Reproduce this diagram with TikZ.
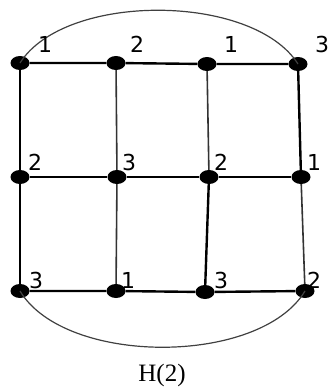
\documentclass[tikz,border=0pt]{standalone}
\usepackage{fontspec}
\setmainfont{Liberation Serif}
\newfontfamily\labfont{DejaVu Sans}
\usetikzlibrary{shapes.geometric}

\begin{document}
\begin{tikzpicture}[x=1pt,y=-1pt,
  dot/.style={ellipse,fill=black,inner sep=0pt,minimum width=19pt,minimum height=14pt},
  lab/.style={font=\labfont\fontsize{22}{23}\selectfont,inner sep=0pt},
  edge/.style={line width=2.4pt},
  thin/.style={line width=1.6pt,black!80},
  arc/.style={line width=1.2pt,black!75}]
  \useasboundingbox (0,0) rectangle (328,392);
  % vertices
  \node[dot] (a1) at (20,63) {};
  \node[dot] (a2) at (116,63) {};
  \node[dot] (a3) at (207,64) {};
  \node[dot] (a4) at (298,64) {};
  \node[dot] (b1) at (20,177) {};
  \node[dot] (b2) at (117,177) {};
  \node[dot] (b3) at (209,177) {};
  \node[dot] (b4) at (301,177) {};
  \node[dot] (c1) at (20,291) {};
  \node[dot] (c2) at (116,291) {};
  \node[dot] (c3) at (205,292) {};
  \node[dot] (c4) at (305,291) {};
  % rows
  \draw[edge] (a1)--(a2)--(a3)--(a4);
  \draw[edge] (b1)--(b2)--(b3)--(b4);
  \draw[edge] (c1)--(c2)--(c3)--(c4);
  % columns
  \draw[edge] (a1)--(b1)--(c1);
  \draw[thin] (a2)--(b2)--(c2);
  \draw[thin] (a3)--(b3);
  \draw[edge] (b3)--(c3);
  \draw[edge] (a4)--(b4);
  \draw[thin] (b4)--(c4);
  % outer arcs
  \draw[arc] (a1.center) .. controls +(45,-71) and +(-45,-71) .. (a4.center);
  \draw[arc] (c1.center) .. controls +(45,75) and +(-45,75) .. (c4.center);
  % colours
  \node[lab] (la1) at (45,44) {1};
  \node[lab] (la2) at (137,44) {2};
  \node[lab] (la3) at (231,44) {1};
  \node[lab] (la4) at (322,44) {3};
  \node[lab] (lb1) at (35,162) {2};
  \node[lab] (lb2) at (129,162) {3};
  \node[lab] (lb3) at (221,162) {2};
  \node[lab] (lb4) at (314,162) {1};
  \node[lab] (lc1) at (36,280) {3};
  \node[lab] (lc2) at (128,280) {1};
  \node[lab] (lc3) at (221,280) {3};
  \node[lab] (lc4) at (314,280) {2};
  \node[font=\fontsize{25}{28}\selectfont,inner sep=0pt] (cap) at (162,375) {H(2)};
\end{tikzpicture}
\end{document}
